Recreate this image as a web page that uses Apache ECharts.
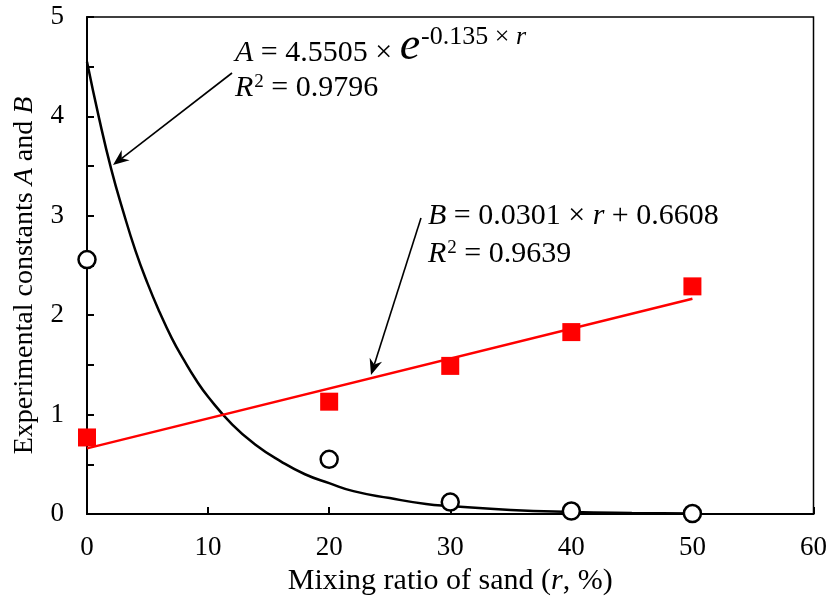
<!DOCTYPE html>
<html>
<head>
<meta charset="utf-8">
<script src="https://cdn.jsdelivr.net/npm/echarts@6/dist/echarts.min.js"></script>
<style>html,body{margin:0;padding:0;background:#fff}#c{width:830px;height:601px}</style>
</head>
<body>
<div id="c"></div>
<script>
// ---- data ----
var mixRatio = [0, 20, 30, 40, 50];
var constA = [2.56, 0.55, 0.12, 0.03, 0.005];
var constB = [0.77, 1.13, 1.49, 1.83, 2.29];
// fitted curve for A
var fitAr = [0, 1, 2, 3, 4, 5, 6, 7, 8, 9, 10, 12, 14, 16, 18, 20, 22, 25, 28, 30, 35, 40, 45, 50];
var fitAv = [4.55, 3.98, 3.47, 3.04, 2.65, 2.32, 2.03, 1.77, 1.55, 1.35, 1.18, 0.90, 0.69, 0.53, 0.40, 0.31, 0.23, 0.16, 0.10, 0.08, 0.04, 0.02, 0.01, 0.005];
// fitted line for B
var fitBr = [0, 50];
var fitBv = [0.66, 2.165];
var xTicks = [0, 10, 20, 30, 40, 50, 60];
var yTicks = [0, 1, 2, 3, 4, 5];

function pairs(xs, ys) { return xs.map(function (x, i) { return [x, ys[i]]; }); }

var FONT = '"Liberation Serif", "Times New Roman", serif';
var chart = echarts.init(document.getElementById('c'), null, { renderer: 'canvas' });

var option = {
  backgroundColor: '#fff',
  animation: false,
  grid: { left: 87, right: 15, top: 17, bottom: 87, show: true, borderColor: '#000', borderWidth: 1.5, backgroundColor: 'transparent' },
  xAxis: {
    type: 'value', min: xTicks[0], max: xTicks[xTicks.length - 1], interval: 10,
    name: 'Mixing ratio of sand ({i|r}, %)', nameLocation: 'middle', nameGap: 50,
    nameTextStyle: { fontFamily: FONT, fontSize: 30, color: '#000', rich: { i: { fontFamily: FONT, fontSize: 30, fontStyle: 'italic', color: '#000' } } },
    axisLine: { show: true, lineStyle: { color: '#000', width: 2 } },
    axisTick: { show: true, inside: true, length: 7, lineStyle: { color: '#000', width: 2 } },
    axisLabel: { fontFamily: FONT, fontSize: 27, color: '#000', margin: 20 },
    splitLine: { show: false }
  },
  yAxis: {
    type: 'value', min: yTicks[0], max: yTicks[yTicks.length - 1], interval: 1,
    name: 'Experimental constants {i|A} and {i|B}', nameLocation: 'middle', nameGap: 48,
    nameTextStyle: { fontFamily: FONT, fontSize: 28, color: '#000', padding: [0, 20, 0, 0], rich: { i: { fontFamily: FONT, fontSize: 28, fontStyle: 'italic', color: '#000' } } },
    axisLine: { show: true, lineStyle: { color: '#000', width: 2 } },
    axisTick: { show: true, inside: true, length: 7, lineStyle: { color: '#000', width: 2 } },
    minorTick: { show: true, splitNumber: 2, length: 7, lineStyle: { color: '#000', width: 2 } },
    axisLabel: { fontFamily: FONT, fontSize: 27, color: '#000', margin: 23 },
    splitLine: { show: false }
  },
  series: [
    { type: 'line', data: pairs(fitAr, fitAv), smooth: true, symbol: 'none', lineStyle: { color: '#000', width: 2.5 }, z: 2 },
    { type: 'line', data: pairs(fitBr, fitBv), symbol: 'none', lineStyle: { color: '#ff0000', width: 2.5 }, z: 2 },
    { type: 'scatter', data: pairs(mixRatio, constA), symbol: 'circle', symbolSize: 17, itemStyle: { color: '#fff', borderColor: '#000', borderWidth: 2.5, opacity: 1 }, z: 4 },
    { type: 'scatter', data: pairs(mixRatio, constB), symbol: 'rect', symbolSize: 18, itemStyle: { color: '#ff0000', opacity: 1 }, z: 4 }
  ]
};
chart.setOption(option);

// ---- annotations (text runs laid out left to right) ----
var mctx = document.createElement('canvas').getContext('2d');
function measure(s, size, italic) {
  mctx.font = (italic ? 'italic ' : '') + size + 'px ' + FONT;
  return mctx.measureText(s).width;
}
function run(x, base, parts) {
  var out = [];
  parts.forEach(function (p) {
    var size = p[1], italic = p[2], dy = p[3] || 0;
    out.push({
      type: 'text', z: 10, x: x, y: base + dy - 0.34 * size,
      style: { text: p[0], fontFamily: FONT, fontSize: size, fontStyle: italic ? 'italic' : 'normal', fill: '#000', verticalAlign: 'middle', align: 'left' }
    });
    x += measure(p[0], size, italic) + (p[4] || 0);
  });
  return out;
}
function arrow(x1, y1, x2, y2) {
  var ang = Math.atan2(y2 - y1, x2 - x1);
  var L = 16, W = 6.5, notch = 11;
  var bx = x2 - L * Math.cos(ang), by = y2 - L * Math.sin(ang);
  var nx = x2 - notch * Math.cos(ang), ny = y2 - notch * Math.sin(ang);
  var px = -Math.sin(ang), py = Math.cos(ang);
  return [
    { type: 'line', z: 10, shape: { x1: x1, y1: y1, x2: nx, y2: ny }, style: { stroke: '#000', lineWidth: 1.6 } },
    { type: 'polygon', z: 10, shape: { points: [[x2, y2], [bx + W * px, by + W * py], [nx, ny], [bx - W * px, by - W * py]] }, style: { fill: '#000' } }
  ];
}
var g = [];
g = g.concat(run(235, 63, [['A', 30, true], [' = 4.5505 × ', 30, false], ['e', 46, true, 0, 1], ['-0.135 × ', 26, false, -17], ['r', 26, true, -17]]));
g = g.concat(run(235, 98, [['R', 30, true, 0, 1], ['2', 19, false, -10], [' = 0.9796', 30, false]]));
g = g.concat(run(428, 226, [['B', 30, true], [' = 0.0301 × ', 30, false], ['r', 30, true], [' + 0.6608', 30, false]]));
g = g.concat(run(428, 264, [['R', 30, true, 0, 1], ['2', 19, false, -10], [' = 0.9639', 30, false]]));
g = g.concat(arrow(232, 73, 113, 165));
g = g.concat(arrow(421, 218, 371, 375));
chart.setOption({ graphic: g });
</script>
</body>
</html>
